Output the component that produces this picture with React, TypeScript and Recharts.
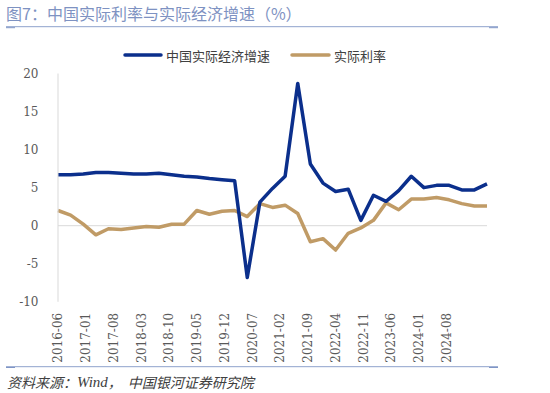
import React from 'react';
import { LineChart, Line, XAxis, YAxis, ReferenceLine } from 'recharts';

const quarters = [
  '2016Q2', '2016Q3', '2016Q4', '2017Q1', '2017Q2', '2017Q3', '2017Q4',
  '2018Q1', '2018Q2', '2018Q3', '2018Q4', '2019Q1', '2019Q2', '2019Q3', '2019Q4',
  '2020Q1', '2020Q2', '2020Q3', '2020Q4', '2021Q1', '2021Q2', '2021Q3', '2021Q4',
  '2022Q1', '2022Q2', '2022Q3', '2022Q4', '2023Q1', '2023Q2', '2023Q3', '2023Q4',
  '2024Q1', '2024Q2', '2024Q3', '2024Q4',
];

const gdpGrowth = [
  6.7, 6.7, 6.8, 7.0, 7.0, 6.9, 6.8,
  6.8, 6.9, 6.7, 6.5, 6.4, 6.2, 6.05, 5.9,
  -6.8, 3.1, 4.9, 6.5, 18.7, 8.1, 5.6, 4.5,
  4.8, 0.7, 4.0, 3.2, 4.6, 6.5, 5.0, 5.3,
  5.3, 4.7, 4.7, 5.5,
];

const realRate = [
  2.0, 1.4, 0.2, -1.2, -0.4, -0.5, -0.3,
  -0.1, -0.2, 0.2, 0.2, 2.0, 1.5, 1.9, 2.0,
  1.2, 2.9, 2.4, 2.7, 1.6, -2.1, -1.7, -3.2,
  -1.0, -0.3, 0.7, 3.0, 2.1, 3.5, 3.5, 3.7,
  3.4, 2.9, 2.6, 2.6,
];

const tickLabels = [
  '2016-06', '2017-01', '2017-08', '2018-03', '2018-10', '2019-05', '2019-12',
  '2020-07', '2021-02', '2021-09', '2022-04', '2022-11', '2023-06', '2024-01', '2024-08',
];

const yTicks = [-10, -5, 0, 5, 10, 15, 20];
const TICK_STEP = 2.2;

const SERIES_GDP = '中国实际经济增速';
const SERIES_RATE = '实际利率';
const BLUE = '#0b2f8c';
const TAN = '#c09b66';

const data = quarters.map((q, i) => ({ q, idx: i, gdp: gdpGrowth[i], rate: realRate[i] }));
const xTicks = tickLabels.map((_, k) => k * TICK_STEP);

const XTick = (props: any) => {
  const { x, y, payload } = props;
  const label = tickLabels[Math.round(payload.value / TICK_STEP)];
  return (
    <text
      x={x}
      y={y}
      transform={`rotate(-90 ${x} ${y})`}
      textAnchor="end"
      dy="0.36em"
      fill="#595959"
      fontSize={12}
      fontFamily="DejaVu Serif"
    >
      {label}
    </text>
  );
};

const CJK = '"Noto Sans CJK SC", "Noto Sans", sans-serif';

export default function App() {
  return (
    <div style={{ position: 'absolute', left: 0, top: 0, width: 550, height: 393, background: '#fff', fontFamily: CJK }}>
      <LineChart
        width={550}
        height={393}
        data={data}
        margin={{ top: 73.5, right: 63, bottom: 0, left: 0 }}
      >
        <XAxis
          type="number"
          dataKey="idx"
          domain={[0, quarters.length - 1]}
          ticks={xTicks}
          interval={0}
          axisLine={false}
          tickLine={false}
          tickSize={0}
          tickMargin={11}
          tick={<XTick />}
          height={91.2}
        />
        <YAxis
          domain={[-10, 20]}
          ticks={yTicks}
          interval={0}
          axisLine={{ stroke: '#d9d9d9', strokeWidth: 1 }}
          tickLine={false}
          tickSize={0}
          tickMargin={19.5}
          width={58}
          tick={{ fill: '#595959', fontSize: 12, fontFamily: 'DejaVu Serif' }}
        />
        <ReferenceLine y={0} stroke="#d9d9d9" strokeWidth={1} />
        <Line
          type="linear"
          dataKey="rate"
          name={SERIES_RATE}
          stroke={TAN}
          strokeWidth={3.5}
          dot={false}
          strokeLinejoin="round"
          isAnimationActive={false}
        />
        <Line
          type="linear"
          dataKey="gdp"
          name={SERIES_GDP}
          stroke={BLUE}
          strokeWidth={3.5}
          dot={false}
          strokeLinejoin="round"
          isAnimationActive={false}
        />
      </LineChart>
      <svg
        width={550}
        height={393}
        style={{ position: 'absolute', left: 0, top: 0, pointerEvents: 'none' }}
      >
        <text x={6} y={13} dominantBaseline="central" fontSize={16} fill="#7e92c2" fontFamily={CJK}>
          图7：中国实际利率与实际经济增速（%）
        </text>
        <line x1={6} x2={498} y1={26.7} y2={26.7} stroke="#8ea2cc" strokeWidth={1} />
        <line x1={6} x2={15} y1={27.7} y2={27.7} stroke="#7f95c6" strokeWidth={1} />
        <line x1={489} x2={498} y1={27.7} y2={27.7} stroke="#7f95c6" strokeWidth={1} />

        <line x1={125} x2={161} y1={55} y2={55} stroke={BLUE} strokeWidth={3.5} strokeLinecap="round" />
        <text x={166} y={55} dominantBaseline="central" fontSize={13} fill="#404040" fontFamily={CJK}>
          {SERIES_GDP}
        </text>
        <line x1={292} x2={329} y1={55} y2={55} stroke={TAN} strokeWidth={3.5} strokeLinecap="round" />
        <text x={334} y={55} dominantBaseline="central" fontSize={13} fill="#404040" fontFamily={CJK}>
          {SERIES_RATE}
        </text>

        <line x1={6} x2={498} y1={366.7} y2={366.7} stroke="#8ea2cc" strokeWidth={1} />
        <line x1={6} x2={15} y1={367.5} y2={367.5} stroke="#7f95c6" strokeWidth={1} />
        <line x1={489} x2={498} y1={367.5} y2={367.5} stroke="#7f95c6" strokeWidth={1} />
        <text x={7} y={381.7} dominantBaseline="central" fontSize={14} fontStyle="italic" fill="#404040" fontFamily={CJK}>
          资料来源：<tspan fontFamily="Liberation Serif" fontSize={15}>Wind</tspan>，<tspan dx={6}>中国银河证券研究院</tspan>
        </text>
      </svg>
    </div>
  );
}
